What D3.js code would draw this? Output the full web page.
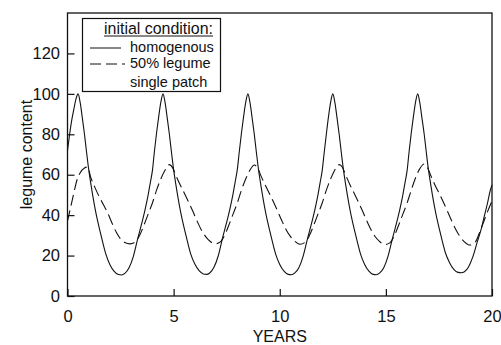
<!DOCTYPE html>
<html>
<head>
<meta charset="utf-8">
<script src="https://cdn.jsdelivr.net/npm/d3@7"></script>
<style>
  html, body { margin: 0; padding: 0; background: #fff; }
  svg { display: block; font-family: "Liberation Sans", Arial, Helvetica, sans-serif; }
</style>
</head>
<body>
<svg id="chart" width="501" height="345"></svg>
<script>
// ---- data ----
const xTicks = [0, 5, 10, 15, 20];
const yTicks = [0, 20, 40, 60, 80, 100, 120];
const xLabel = "YEARS";
const yLabel = "legume content";
const legendTitle = "initial condition:";
const legendLabels = ["homogenous", "50% legume", "single patch"];

// homogenous (solid)
const solidYears = [
  0, 0.1, 0.2, 0.3, 0.4, 0.5, 0.6, 0.7, 0.8, 0.9, 1.0, 1.1, 1.2, 1.35, 1.5, 1.65, 1.8, 2.0, 2.2, 2.4, 2.55, 2.7, 2.9, 3.1, 3.3, 3.5, 3.65, 3.8, 3.9,
  4.0, 4.1, 4.2, 4.3, 4.4, 4.5, 4.6, 4.7, 4.8, 4.9, 5.0, 5.1, 5.2, 5.35, 5.5, 5.65, 5.8, 6.0, 6.2, 6.4, 6.55, 6.7, 6.9, 7.1, 7.3, 7.5, 7.65, 7.8, 7.9,
  8.0, 8.1, 8.2, 8.3, 8.4, 8.5, 8.6, 8.7, 8.8, 8.9, 9.0, 9.1, 9.2, 9.35, 9.5, 9.65, 9.8, 10.0, 10.2, 10.4, 10.55, 10.7, 10.9, 11.1, 11.3, 11.5, 11.65, 11.8, 11.9,
  12.0, 12.1, 12.2, 12.3, 12.4, 12.5, 12.6, 12.7, 12.8, 12.9, 13.0, 13.1, 13.2, 13.35, 13.5, 13.65, 13.8, 14.0, 14.2, 14.4, 14.55, 14.7, 14.9, 15.1, 15.3, 15.5, 15.65, 15.8, 15.9,
  16.0, 16.1, 16.2, 16.3, 16.4, 16.5, 16.6, 16.7, 16.8, 16.9, 17.0, 17.1, 17.2, 17.35, 17.5, 17.65, 17.8, 18.0, 18.2, 18.4, 18.55, 18.7, 18.9, 19.1, 19.3, 19.5, 19.65, 19.8, 19.9,
  20.0
];
const solidValues = [
  72, 80, 87, 92.5, 97.5, 100, 95.5, 88, 80, 71, 62.5, 55.5, 49, 40.5, 33.5, 27, 21, 15.5, 12.2, 10.6, 10.4, 11.2, 14, 19.5, 28, 36, 42.5, 50, 56,
  62, 72, 81, 89, 96, 100, 95.5, 88, 80, 71, 62.5, 55.5, 49, 40.5, 33.5, 27, 21, 15.8, 12.5, 10.9, 10.7, 11.4, 14.2, 19.8, 28.5, 36.5, 43, 50.5, 56.5,
  62.5, 72, 81, 89, 96, 100, 95.5, 88, 80, 71, 62.5, 55.5, 49, 40.5, 33.5, 27, 21, 15.6, 12.3, 10.7, 10.5, 11.3, 14, 19.6, 28, 36, 42.5, 50, 56,
  62, 71.5, 80.5, 89, 96, 100, 95.5, 88, 80, 71, 62.5, 55.5, 49, 40.5, 33.5, 27, 21, 15.6, 12.3, 10.7, 10.5, 11.3, 14, 19.6, 28, 36, 42.5, 50, 56,
  62, 72, 81, 89, 96, 100, 95.5, 88, 80.5, 71.5, 63, 56, 49.5, 41, 34, 27.5, 21.5, 16.5, 13.2, 11.7, 11.5, 12, 14.5, 19.5, 26.5, 33.5, 40, 46.5, 51.5,
  55
];

// 50% legume (dashed)
const dashedYears = [
  0, 0.15, 0.3, 0.45, 0.6, 0.8, 0.95, 1.1, 1.3, 1.5, 1.7, 1.9, 2.1, 2.3, 2.5, 2.7, 2.95, 3.2, 3.4, 3.6, 3.8,
  4.0, 4.2, 4.4, 4.6, 4.8, 4.95, 5.1, 5.3, 5.5, 5.7, 5.9, 6.1, 6.3, 6.5, 6.7, 6.95, 7.2, 7.4, 7.6, 7.8,
  8.0, 8.2, 8.4, 8.6, 8.8, 8.95, 9.1, 9.3, 9.5, 9.7, 9.9, 10.1, 10.3, 10.5, 10.7, 10.95, 11.2, 11.4, 11.6, 11.8,
  12.0, 12.2, 12.4, 12.6, 12.8, 12.95, 13.1, 13.3, 13.5, 13.7, 13.9, 14.1, 14.3, 14.5, 14.7, 14.95, 15.2, 15.4, 15.6, 15.8,
  16.0, 16.2, 16.4, 16.6, 16.8, 16.95, 17.1, 17.3, 17.5, 17.7, 17.9, 18.1, 18.3, 18.5, 18.7, 18.95, 19.2, 19.4, 19.6, 19.8,
  20.0
];
const dashedValues = [
  37, 44, 51, 57.5, 61, 63.3, 63.8, 58.5, 53.5, 49, 45, 41, 36, 31.5, 28.2, 26.5, 25.8, 26.8, 30, 35, 40.5,
  46, 52.5, 58, 62.3, 65, 63.5, 59.8, 55.2, 51, 46.6, 42, 37.2, 32.8, 29.5, 27.2, 25.8, 26.8, 30, 35, 40.5,
  46, 52.5, 58, 62.3, 64.8, 63.5, 59.8, 55.2, 51, 46.6, 42, 37.2, 32.8, 29.5, 27.2, 25.6, 26.6, 30, 35, 40.5,
  46, 52.5, 58, 62.5, 65, 63.7, 60, 55.2, 51, 46.6, 42, 37.2, 32.8, 29.3, 27, 25.4, 26.4, 29.8, 35, 40.5,
  46, 52.5, 58.5, 63, 65.3, 63.8, 60, 55.2, 51, 46.6, 42, 37.2, 32.8, 29.3, 26.8, 25.2, 26.5, 31, 36.5, 42,
  47
];

// ---- chart ----
const svg = d3.select("#chart");
const M = { left: 67.5, right: 492, top: 13, bottom: 296 };

const x = d3.scaleLinear().domain([0, 20]).range([M.left, M.right]);
const y = d3.scaleLinear().domain([0, 140]).range([M.bottom, M.top]);

const ink = "#111";

// curves
const solidData = solidYears.map((t, i) => [t, solidValues[i]]);
const dashedData = dashedYears.map((t, i) => [t, dashedValues[i]]);
const line = d3.line().x(d => x(d[0])).y(d => y(d[1])).curve(d3.curveMonotoneX);

svg.append("path").datum(dashedData)
  .attr("d", line).attr("fill", "none").attr("stroke", ink)
  .attr("stroke-width", 1.1).attr("stroke-dasharray", "11,5");

svg.append("path").datum(solidData)
  .attr("d", line).attr("fill", "none").attr("stroke", ink)
  .attr("stroke-width", 1.1);

// frame
svg.append("rect")
  .attr("x", M.left).attr("y", M.top)
  .attr("width", M.right - M.left).attr("height", M.bottom - M.top)
  .attr("fill", "none").attr("stroke", ink).attr("stroke-width", 1.3);

// axes with inward ticks
const xAxis = d3.axisBottom(x).tickValues(xTicks).tickSize(-7).tickPadding(14).tickFormat(d3.format("d"));
const gx = svg.append("g").attr("transform", `translate(0,${M.bottom})`).call(xAxis);
gx.select(".domain").remove();
gx.selectAll(".tick line").attr("stroke", ink).attr("stroke-width", 1.2);
gx.selectAll(".tick text").attr("fill", ink).attr("font-size", 16.5);

const yAxis = d3.axisLeft(y).tickValues(yTicks).tickSize(-7).tickPadding(14).tickFormat(d3.format("d"));
const gy = svg.append("g").attr("transform", `translate(${M.left},0)`).call(yAxis);
gy.select(".domain").remove();
gy.selectAll(".tick line").attr("stroke", ink).attr("stroke-width", 1.2);
gy.selectAll(".tick text").attr("fill", ink).attr("font-size", 16.5).attr("x", -7.5);
gx.attr("font-family", null); gy.attr("font-family", null);

// axis labels
svg.append("text").attr("x", (M.left + M.right) / 2).attr("y", 342)
  .attr("text-anchor", "middle").attr("font-size", 16).attr("fill", ink).text(xLabel);
svg.append("text")
  .attr("transform", `translate(32,${(M.top + M.bottom) / 2}) rotate(-90)`)
  .attr("text-anchor", "middle").attr("font-size", 16).attr("fill", ink).text(yLabel);

// legend
const lg = svg.append("g");
lg.append("rect").attr("x", 82.5).attr("y", 18.5).attr("width", 138).attr("height", 73)
  .attr("fill", "#fff").attr("stroke", ink).attr("stroke-width", 1.2);
const title = lg.append("text").attr("x", 213).attr("y", 33.5)
  .attr("text-anchor", "end").attr("font-size", 15.5).attr("fill", ink).text(legendTitle);
// scale the title so that it spans the same width as in the reference (about 109 px)
const w0 = title.node().getComputedTextLength();
if (w0 > 0) title.attr("font-size", Math.min(19, 15.5 * 109 / w0));
const w1 = title.node().getComputedTextLength();
lg.append("line").attr("x1", 213 - w1).attr("x2", 213).attr("y1", 36).attr("y2", 36)
  .attr("stroke", ink).attr("stroke-width", 1);

const rowY = [52, 68, 87];
const styles = [null, "11,5", "none"];
legendLabels.forEach((lab, i) => {
  if (i < 2) {
    lg.append("line").attr("x1", 90).attr("x2", i === 0 ? 121 : 125)
      .attr("y1", rowY[i] - 4).attr("y2", rowY[i] - 4)
      .attr("stroke", ink).attr("stroke-width", 1)
      .attr("stroke-dasharray", styles[i]);
  }
  lg.append("text").attr("x", 130).attr("y", rowY[i])
    .attr("font-size", 14.5).attr("fill", ink).text(lab);
});
</script>
</body>
</html>
